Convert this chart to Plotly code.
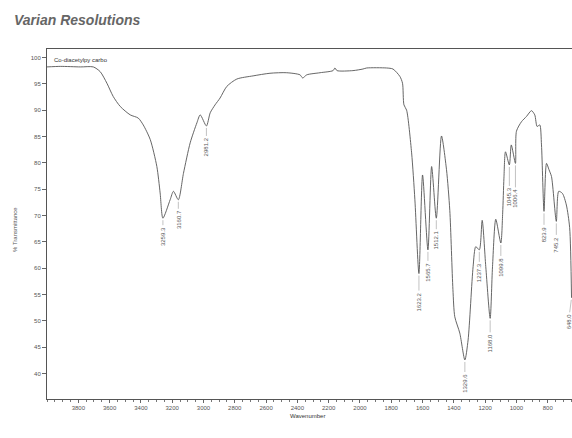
import numpy as np
import plotly.graph_objects as go

# Spectrum (wavenumber, %T)
wavenumber = [4000, 3915, 3787, 3704, 3660, 3617, 3577, 3532, 3468, 3417, 3385, 3340,
              3298, 3277, 3259.3, 3213, 3192, 3160.7, 3128, 3085, 3042, 3021, 2981.2,
              2957, 2926, 2894, 2851, 2787, 2683, 2575, 2468, 2383, 2366, 2340, 2255,
              2172, 2160, 2147, 2045, 1981, 1957, 1830, 1789, 1745, 1728, 1719, 1702,
              1670, 1649, 1623.2, 1600, 1565.7, 1542, 1512.1, 1479, 1447, 1426, 1406,
              1394, 1362, 1329.6, 1309, 1277, 1260, 1237.3, 1219, 1196, 1168.0, 1153,
              1132, 1099.8, 1088, 1080, 1070, 1045.3, 1033, 1006.4, 1000, 968, 936,
              904, 883, 868, 851, 840, 823.9, 808, 792, 776, 745.2, 730, 706, 681, 660,
              648.0]
transmittance = [98.2, 98.3, 98.2, 98.2, 97.3, 95.1, 92.6, 90.7, 89.1, 88.5, 87.2, 84.4,
                 79.3, 74.3, 69.5, 73.0, 74.6, 73.0, 78.0, 83.8, 87.6, 89.1, 87.0,
                 89.5, 91.0, 92.3, 94.5, 95.9, 96.5, 97.0, 97.1, 96.7, 96.1, 96.7, 97.1,
                 97.5, 98.0, 97.5, 97.5, 97.8, 98.0, 98.0, 97.8, 96.4, 95.1, 91.0, 90.0,
                 81.9, 73.0, 59.0, 77.7, 63.5, 79.3, 69.5, 85.1, 78.7, 71.0, 56.0,
                 50.8, 47.7, 42.6, 46.4, 60.3, 64.1, 63.5, 69.1, 60.3, 50.5, 60.3,
                 69.3, 64.8, 70.5, 77.1, 82.1, 79.6, 83.4, 79.9, 86.0, 87.8, 88.8,
                 89.9, 89.1, 86.9, 87.2, 83.4, 70.8, 79.9, 78.7, 77.4, 68.9, 74.6, 74.2, 72.0, 67.7,
                 54.4]

peak_wn = [3259.3, 3160.7, 2981.2, 1623.2, 1565.7, 1512.1, 1329.6, 1237.3, 1168.0,
           1099.8, 1045.3, 1006.4, 823.9, 745.2, 648.0]
peak_text = ["3259.3", "3160.7", "2981.2", "1623.2", "1565.7", "1512.1", "1329.6",
             "1237.3", "1168.0", "1099.8", "1045.3", "1006.4", "823.9", "745.2", "648.0"]
# label offsets from the minimum (pixels)
peak_offset = [18, 20, 21, 28, 22, 22, 23, 23, 25, 24, 32, 35, 23, 23, 24]
peak_xoff = [0, 0, 0, 0, 0, 0, 0, 0, 0, 0, 0, 0, 0, 0, -3]

x_ticks = [3800, 3600, 3400, 3200, 3000, 2800, 2600, 2400, 2200, 2000, 1800, 1600,
           1400, 1200, 1000, 800]
y_ticks = [100, 95, 90, 85, 80, 75, 70, 65, 60, 55, 50, 45, 40]

FONT = "Liberation Sans, Arial, sans-serif"
GRAY = "#555555"

fig = go.Figure()
fig.add_trace(go.Scatter(x=wavenumber, y=transmittance, mode="lines",
                         line=dict(color="#555555", width=0.9, shape="spline", smoothing=0.7),
                         hoverinfo="skip", showlegend=False, cliponaxis=True))

wn_arr = np.array(wavenumber)[::-1]
t_arr = np.array(transmittance)[::-1]
for w, txt, off, xo in zip(peak_wn, peak_text, peak_offset, peak_xoff):
    tv = float(np.interp(w, wn_arr, t_arr))
    fig.add_annotation(x=w, y=tv, xref="x", yref="y", text=txt, textangle=-90,
                       showarrow=True, arrowhead=0, arrowwidth=0.6, arrowcolor="#999999",
                       ax=xo, ay=off, standoff=2,
                       font=dict(family=FONT, size=6, color=GRAY))

fig.add_annotation(xref="paper", yref="paper", x=(12 - 47) / 525, y=(438 - 20 - 39) / 350,
                   xanchor="left", yanchor="middle", showarrow=False,
                   text="<b><i>Varian Resolutions</i></b>",
                   font=dict(family=FONT, size=14, color="#666666"))
fig.add_annotation(xref="paper", yref="paper", x=(52 - 47) / 525, y=(399 - 60) / 350,
                   xanchor="left", yanchor="middle", showarrow=False,
                   text="Co-diacetylpy carbo", font=dict(family=FONT, size=6, color="#333333"))
fig.add_annotation(xref="paper", yref="paper", x=(15 - 47) / 525, y=(399 - 230) / 350,
                   xanchor="center", yanchor="middle", showarrow=False, textangle=-90,
                   text="% Transmittance", font=dict(family=FONT, size=6, color=GRAY))
fig.add_annotation(xref="paper", yref="paper", x=(307 - 47) / 525, y=(399 - 416) / 350,
                   xanchor="center", yanchor="middle", showarrow=False,
                   text="Wavenumber", font=dict(family=FONT, size=6, color="#333333"))

fig.update_layout(
    width=572, height=438,
    margin=dict(l=47, r=0, t=49, b=39),
    paper_bgcolor="white", plot_bgcolor="white",
    font=dict(family=FONT, size=6, color=GRAY),
    xaxis=dict(range=[4000, 645], tickvals=x_ticks, ticktext=[str(v) for v in x_ticks],
               showgrid=False, zeroline=False, showline=True, linecolor="#555555",
               linewidth=1, mirror=True, ticks="outside", ticklen=3, tickcolor="#666666",
               tickfont=dict(family=FONT, size=6, color=GRAY),
               minor=dict(dtick=50, ticks="outside", ticklen=2, tickcolor="#777777")),
    yaxis=dict(range=[35.2, 101.6], tickvals=y_ticks, ticktext=[str(v) for v in y_ticks],
               showgrid=False, zeroline=False, showline=True, linecolor="#555555",
               linewidth=1, ticks="outside", ticklen=4, tickcolor="#666666",
               tickfont=dict(family=FONT, size=6, color=GRAY)),
)

fig.write_html("out.html")
